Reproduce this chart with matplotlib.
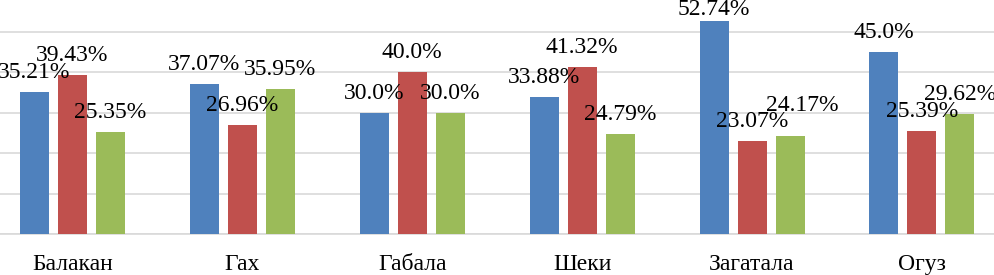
import matplotlib
matplotlib.use("Agg")
import matplotlib.pyplot as plt
import numpy as np

categories = ["Балакан", "Гах", "Габала", "Шеки", "Загатала", "Огуз"]
blue_vals = [35.21, 37.07, 30.0, 33.88, 52.74, 45.0]
red_vals = [39.43, 26.96, 40.0, 41.32, 23.07, 25.39]
green_vals = [25.35, 35.95, 30.0, 24.79, 24.17, 29.62]

colors = ["#4F81BD", "#C0504D", "#9BBB59"]
series = [blue_vals, red_vals, green_vals]

fig = plt.figure(figsize=(9.95, 2.75), dpi=100)
ax = fig.add_axes([0, 41 / 275, 1, 234 / 275])

x = np.arange(len(categories))
width = 0.171
step = 0.2237
font = ["Liberation Serif", "DejaVu Serif"]

for i, (vals, c) in enumerate(zip(series, colors)):
    pos = x + (i - 1) * step
    ax.bar(pos, vals, width=width, color=c, zorder=3)
    for j, (p, v) in enumerate(zip(pos, vals)):
        dx, dy = 0, 10
        if i == 2 and j == 4:
            dx, dy = 8.5, 18
        if i == 0 and j == 4:
            dy = 4.5
        ax.annotate(f"{v}%", (p, v), xytext=(dx, dy), textcoords="offset points",
                    ha="center", va="baseline", fontsize=17, family=font,
                    color="#000000", zorder=5, annotation_clip=False)

ax.set_xlim(-0.4267, 5.43)
ax.set_ylim(0, 57.9)
ax.set_yticks([0, 10, 20, 30, 40, 50])
ax.yaxis.grid(True, color="#D9D9D9", linewidth=1.2, zorder=0)
ax.set_axisbelow(True)
ax.tick_params(axis="y", left=False, labelleft=False)
ax.set_xticks(x)
ax.set_xticklabels(categories, fontsize=17, family=font)
ax.tick_params(axis="x", bottom=False, pad=11)
for s in ["top", "right", "left"]:
    ax.spines[s].set_visible(False)
ax.spines["bottom"].set_color("#D9D9D9")
ax.spines["bottom"].set_linewidth(1.2)

fig.savefig("out.png", dpi=100)
